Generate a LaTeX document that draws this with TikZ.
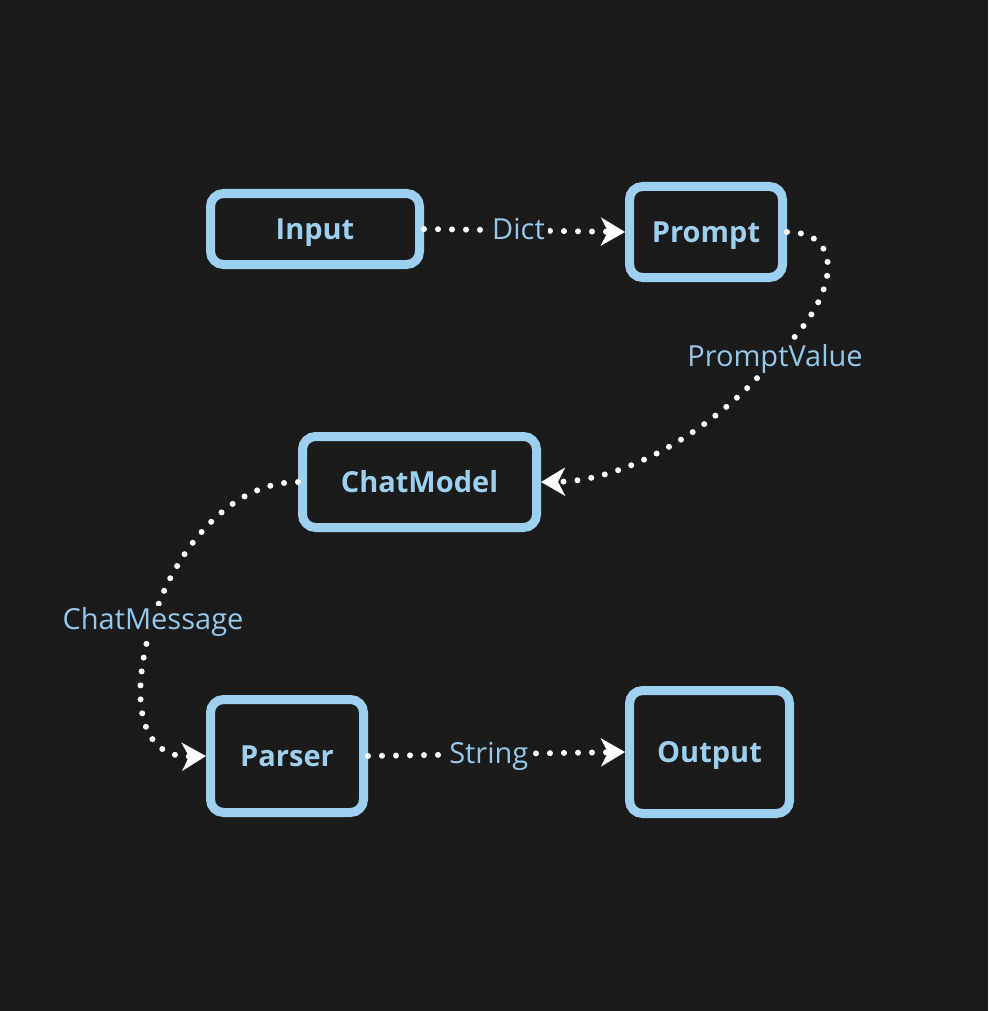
\documentclass[tikz,border=0pt]{standalone}
\usepackage{fontspec}
\setmainfont{Open Sans}
\usetikzlibrary{arrows.meta}
\definecolor{bg}{HTML}{1B1B1B}
\definecolor{boxblue}{HTML}{9DCFEE}
\definecolor{lblblue}{HTML}{95C8EA}
\tikzset{
  blockbox/.style={draw=boxblue, line width=9pt, rounded corners=13pt, fill=bg,
    text=boxblue, font=\fontsize{29}{33}\selectfont\bfseries, inner sep=0pt,
    text height=21pt, text depth=0pt, anchor=center},
  flow/.style={white, line width=6pt, line cap=round, dash pattern=on 0pt off 14pt,
    -{Stealth[length=24pt,width=28pt,inset=7pt]}},
  lbl/.style={fill=bg, text=lblblue, font=\fontsize{29}{33}\selectfont, inner sep=3pt,
    text height=20pt, text depth=2pt}
}
\begin{document}
\begin{tikzpicture}[x=1pt,y=-1pt]
\fill[bg] (0,0) rectangle (988,1011);
\useasboundingbox (0,0) rectangle (988,1011);

\node[blockbox, minimum width=209pt, minimum height=71pt] (input) at (315,229) {Input};
\node[blockbox, minimum width=153pt, minimum height=91pt] (prompt) at (706,232) {Prompt};
\node[blockbox, minimum width=234pt, minimum height=91pt] (chat) at (419.5,482) {ChatModel};
\node[blockbox, minimum width=153pt, minimum height=113pt] (parser) at (287,756) {Parser};
\node[blockbox, minimum width=160pt, minimum height=123pt] (output) at (709.5,752) {Output};

\coordinate (pv) at (775,357);
\coordinate (cm) at (153,620);

\draw[flow] (input.east) -- node[lbl, pos=0.47] (dict) {Dict} (prompt.west);
\draw[flow] (prompt.east) .. controls (848,232) and (838,300) .. (pv)
  .. controls (735,410) and (640,481) .. (chat.east);
\node[lbl] (pvl) at (pv) {PromptValue};
\draw[flow] (chat.west) .. controls (230,482) and (175,550) .. (cm)
  .. controls (128,700) and (140,758) .. (parser.west);
\node[lbl] (cml) at (cm) {ChatMessage};
\draw[flow] (parser.east) -- node[lbl, pos=0.47] (str) {String} (output.west);
\end{tikzpicture}
\end{document}
